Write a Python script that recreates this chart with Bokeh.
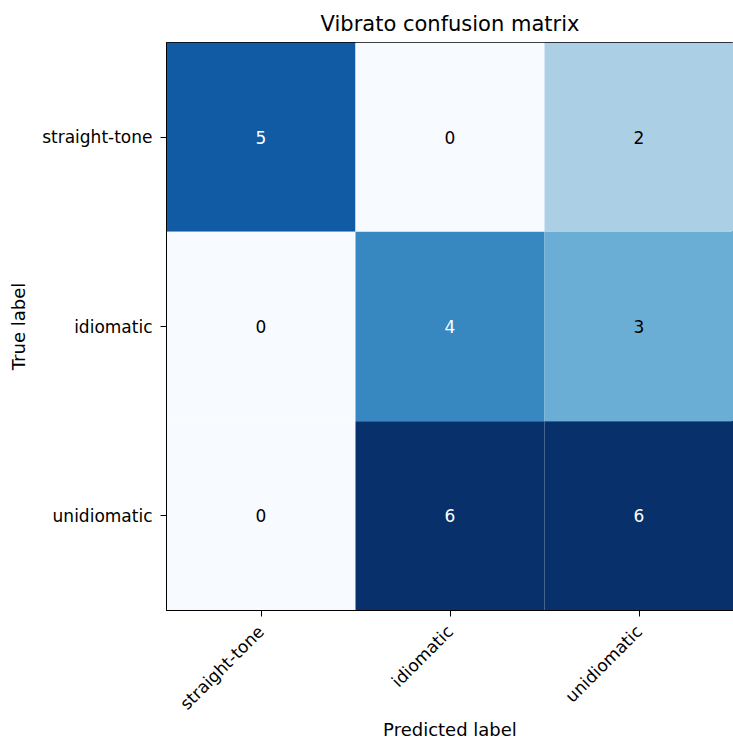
import math
from bokeh.plotting import figure
from bokeh.models import ColumnDataSource, LinearColorMapper, FactorRange
from bokeh.transform import transform
from bokeh.core.properties import value
from bokeh.embed import file_html
from bokeh.resources import INLINE

# ---- data ----
classes = ["straight-tone", "idiomatic", "unidiomatic"]
true_labels = ["straight-tone", "straight-tone", "straight-tone",
               "idiomatic", "idiomatic", "idiomatic",
               "unidiomatic", "unidiomatic", "unidiomatic"]
pred_labels = ["straight-tone", "idiomatic", "unidiomatic"] * 3
counts = [5, 0, 2,
          0, 4, 3,
          0, 6, 6]

# ---- matplotlib "Blues" colormap, linear interpolation of its anchors ----
blues_anchors = ["#f7fbff", "#deebf7", "#c6dbef", "#9ecae1", "#6baed6",
                 "#4292c6", "#2171b5", "#08519c", "#08306b"]

def hex2rgb(h):
    h = h.lstrip("#")
    return [int(h[i:i + 2], 16) for i in (0, 2, 4)]

def make_palette(anchors, n=256):
    rgb = [hex2rgb(a) for a in anchors]
    out = []
    for i in range(n):
        t = i / (n - 1) * (len(rgb) - 1)
        k = min(int(t), len(rgb) - 2)
        f = t - k
        c = [round(rgb[k][j] + (rgb[k + 1][j] - rgb[k][j]) * f) for j in range(3)]
        out.append("#%02x%02x%02x" % tuple(c))
    return out

palette = make_palette(blues_anchors)
mapper = LinearColorMapper(palette=palette, low=min(counts), high=max(counts))

thresh = max(counts) / 2.0
text_colors = ["white" if c > thresh else "black" for c in counts]
text_vals = [str(c) for c in counts]

source = ColumnDataSource(dict(true=true_labels, pred=pred_labels, count=counts,
                               tcolor=text_colors, tval=text_vals))

FONT = "DejaVu Sans"

p = figure(width=733, height=742,
           x_range=FactorRange(*classes, range_padding=0),
           y_range=FactorRange(*list(reversed(classes)), range_padding=0),
           output_backend="svg", toolbar_location=None,
           title="Vibrato confusion matrix",
           min_border_left=166, min_border_top=42, min_border_right=0,
           min_border_bottom=132)

p.rect(x="pred", y="true", width=1, height=1, source=source,
       fill_color=transform("count", mapper), line_color=None)

p.text(x="pred", y="true", text="tval", source=source,
       text_color="tcolor", text_align="center", text_baseline="middle",
       text_font=value(FONT), text_font_size="17px")

p.title.align = "center"
p.title.text_font = FONT
p.title.text_font_size = "21px"
p.title.text_font_style = "normal"
p.title.text_color = "black"
p.title.standoff = 13

p.grid.visible = False
p.outline_line_color = "black"
p.outline_line_width = 1
p.outline_line_alpha = 1

for ax in (p.xaxis[0], p.yaxis[0]):
    ax.axis_line_color = "black"
    ax.major_tick_line_color = "black"
    ax.major_tick_out = 6
    ax.major_tick_in = 0
    ax.minor_tick_line_color = None
    ax.major_label_text_font = FONT
    ax.major_label_text_font_size = "17px"
    ax.major_label_text_color = "black"
    ax.axis_label_text_font = FONT
    ax.axis_label_text_font_size = "18px"
    ax.axis_label_text_font_style = "normal"
    ax.axis_label_text_color = "black"

p.xaxis.axis_label = "Predicted label"
p.yaxis.axis_label = "True label"
p.xaxis.major_label_orientation = math.pi / 4
p.xaxis.major_label_standoff = 12
p.yaxis.major_label_standoff = 8
p.xaxis.axis_label_standoff = -5
p.yaxis.axis_label_standoff = 10
p.background_fill_color = "white"
p.border_fill_color = "white"

open("out.html", "w").write(file_html(p, INLINE))
